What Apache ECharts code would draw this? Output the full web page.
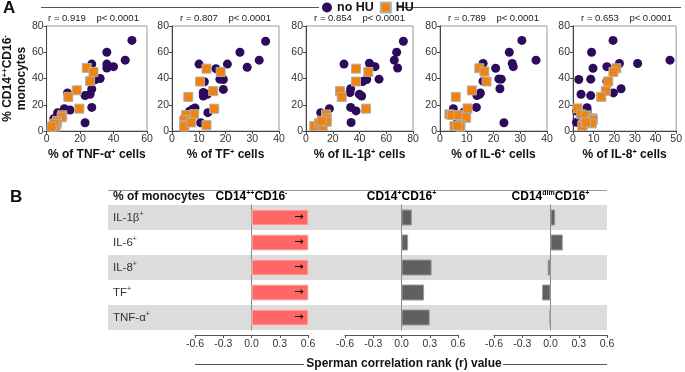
<!DOCTYPE html>
<html><head><meta charset="utf-8">
<script src="https://cdn.jsdelivr.net/npm/echarts@6/dist/echarts.min.js"></script>
<style>html,body{margin:0;padding:0;background:#fff}#c{width:685px;height:372px}</style>
</head><body><div id="c"></div>
<script>
// ---------- Panel A data: [x, y] = [% of marker+ cells, % CD14++CD16- monocytes]
const tnfNoHU = [[51,69],[36,60],[47,54],[27,51],[36,51],[36,48],[40,49],[29,39],[27,39],[32,40],[27,32],[26,28],[23,27],[12.5,29],[14,16],[10.6,17],[6.6,14],[27,18],[23,6.3],[4.3,9.4]];
const tnfHU = [[24,48],[28,45],[26,38],[18,31],[13,26],[19.6,17],[9.4,12],[9,10.4],[6.2,7.6],[6,5.3],[3.8,3.8],[5.3,3.3],[4.7,5.6],[3,3.3]];
const tfNoHU = [[35,68.4],[25.4,60],[32.6,54],[20.7,51],[10.1,51],[16.4,47.5],[28.1,48.6],[17.9,39.5],[19.2,39.2],[12.1,37.5],[11.7,29.4],[11.7,26.7],[13.2,28],[19.2,31.7],[13.4,14],[8.6,17.6],[7.7,16.6],[6.5,15],[10.7,6.3],[4.5,9.6]];
const tfHU = [[12.9,47.5],[18.2,45],[10.5,37.7],[15.4,30.4],[6.1,26],[15.8,17],[7.1,11.8],[8.3,12.8],[5.2,12.1],[4.7,8.3],[4.6,4.5],[4.6,3.3],[12.9,4.5],[7.2,6.5]];
const il1NoHU = [[72.8,68.4],[67.8,60],[66,54],[68.5,48],[47.4,51.6],[51.6,49],[28.4,51],[54.6,39.5],[45.4,39.2],[42.4,37.7],[33.4,32.2],[32.9,29.2],[39.9,28],[41.6,26.7],[33.4,18],[37.4,15.3],[17.5,17],[11,14],[14.2,9.6],[33.7,6.5]];
const il1HU = [[37.4,47.5],[46.6,45],[37.4,37.7],[25.4,30.4],[26.7,26],[44.9,17],[15,12.6],[15.5,9.6],[10,4.8],[6.2,3.8],[9.7,5.8],[12.5,3.8],[15.5,7],[11.7,7.8]];
const il6NoHU = [[30.6,69],[35.9,54],[25.9,60],[27,51.4],[27.4,49],[20.8,47.8],[16.1,51.4],[22,39.7],[22.9,39.5],[16.1,38],[15.1,29],[14.8,28],[13.8,27],[22.4,32.2],[13.6,18],[10.1,15.2],[8.8,14.2],[5,17],[6.5,9.6],[23.9,6.3]];
const il6HU = [[14.7,47.8],[16.6,45.3],[17.4,37.7],[11.9,30.9],[5.9,26],[10.3,17.2],[3.5,12.7],[4.4,12.2],[6.9,12.2],[9.8,10.1],[7.6,4.8],[5.4,3.8],[7.6,3.3],[6.5,4]];
const il8NoHU = [[19.4,69],[9,60],[47,54],[31.3,51.4],[22.5,51.4],[16.4,49],[9.7,47.8],[2.8,39.2],[8.6,39.5],[16.4,38],[23.3,32.2],[19.6,29],[3.9,28],[8.6,27],[6.8,17.7],[6.8,16],[1.7,15.2],[6.8,14.2],[1.7,6.6],[8.6,9.6]];
const il8HU = [[21,47.8],[19.6,45],[17.1,37.7],[15.9,30.6],[13.7,26],[2.2,17.2],[4,12.7],[6.3,11.9],[9.4,9.6],[9.7,8.4],[9.1,5.8],[4.8,4.8],[4.5,3.8],[6.3,6.6]];
const markerNames = ['TNF-α','TF','IL-1β','IL-6','IL-8'];
const xMax = [60, 40, 80, 40, 50];
const xStep = [20, 10, 20, 10, 10];
const rValues = ['0.919','0.807','0.854','0.789','0.653'];
const pText = 'p< 0.0001';

// ---------- Panel B data
const rowLabels = ['IL-1β','IL-6','IL-8','TF','TNF-α'];
const classicalR = [0.854, 0.789, 0.653, 0.807, 0.919];   // CD14++CD16- (drawn capped at 0.6, arrow)
const intermediateR = [0.11, 0.07, 0.32, 0.24, 0.30];    // CD14+CD16+
const nonclassicalR = [0.05, 0.13, -0.03, -0.09, -0.01]; // CD14dimCD16+
const rTicks = [-0.6, 0.6, 0.3];

// ---------- styling / layout
const FONT = '"Liberation Sans", Arial, Helvetica, sans-serif';
const PURPLE = '#2c0b5c', ORANGE = '#f0820f';
const sup = (sz, bold) => ({fontSize: sz, fontWeight: bold ? 'bold' : 'normal', verticalAlign: 'top', lineHeight: sz + 1, fontFamily: FONT, color: '#111'});
const boldT = {fontSize: 12, fontWeight: 'bold', lineHeight: 14, fontFamily: FONT, color: '#111'};

const sLefts = [40, 172, 306, 440, 573];
const sTop = 26, sW = 107, sH = 105;
const bLefts = [195, 345, 494];
const bTop = 205, bH = 125, bW = 113;

const grid = [], xAxis = [], yAxis = [], series = [], graphic = [];
const dataSets = [[tnfNoHU, tnfHU],[tfNoHU, tfHU],[il1NoHU, il1HU],[il6NoHU, il6HU],[il8NoHU, il8HU]];

const axisCommon = {
  axisLine: {show: true, onZero: false, lineStyle: {color: '#444', width: 1}},
  axisTick: {show: true, length: 3, lineStyle: {color: '#444'}},
  axisLabel: {fontSize: 10.5, color: '#333', fontFamily: FONT, margin: 3},
  splitLine: {show: false}
};

for (let i = 0; i < 5; i++) {
  grid.push({left: sLefts[i], top: sTop, width: sW, height: sH, show: true, borderColor: '#999', borderWidth: 1});
  xAxis.push(Object.assign({gridIndex: i, type: 'value', min: 0, max: xMax[i], interval: xStep[i],
    name: '{t|% of ' + markerNames[i] + '}{s|+}{t| cells}', nameLocation: 'middle', nameGap: 17,
    nameTextStyle: {rich: {t: boldT, s: sup(7.5, true)}}}, JSON.parse(JSON.stringify(axisCommon))));
  const ya = Object.assign({gridIndex: i, type: 'value', min: 0, max: 80, interval: 20}, JSON.parse(JSON.stringify(axisCommon)));
  if (i === 0) {
    ya.name = '{t|% CD14}{s|++}{t|CD16}{s|-}\n{t|monocytes}';
    ya.nameLocation = 'middle';
    ya.nameGap = 17;
    ya.nameTextStyle = {rich: {t: boldT, s: sup(7.5, true)}};
  }
  yAxis.push(ya);
  series.push({type: 'scatter', name: 'no HU', xAxisIndex: i, yAxisIndex: i, data: dataSets[i][0],
    symbol: 'circle', symbolSize: 9, itemStyle: {color: PURPLE, opacity: 1}});
  series.push({type: 'scatter', name: 'HU', xAxisIndex: i, yAxisIndex: i, data: dataSets[i][1],
    symbol: 'rect', symbolSize: 9, itemStyle: {color: ORANGE, borderColor: '#b0b0b0', borderWidth: 1, opacity: 1}});
  graphic.push({type: 'text', x: sLefts[i] + sW / 2, y: 18,
    style: {text: 'r = ' + rValues[i] + '    ' + pText, align: 'center', verticalAlign: 'middle',
      fontSize: 9.5, fontFamily: FONT, fill: '#222'}});
}

// Panel B background grid (row bands + row labels)
grid.push({left: 108, top: bTop, width: 499, height: bH});
xAxis.push({gridIndex: 5, type: 'value', min: 0, max: 1, show: false});
yAxis.push({gridIndex: 5, type: 'category', data: rowLabels, inverse: true,
  axisLine: {show: false}, axisTick: {show: false}, splitLine: {show: false},
  splitArea: {show: true, areaStyle: {color: ['#dcdcdc', 'rgba(255,255,255,0)']}},
  axisLabel: {inside: true, margin: 5, formatter: v => '{n|' + v + '}{s|+}',
    rich: {n: {fontSize: 11.5, lineHeight: 14, color: '#333', fontFamily: FONT}, s: Object.assign(sup(7, false), {color: '#333'})}}});

const barSets = [classicalR, intermediateR, nonclassicalR];
const fmtR = v => (Math.abs(v) < 1e-9 ? '0.0' : v.toFixed(1));
for (let k = 0; k < 3; k++) {
  const gi = 6 + k;
  grid.push({left: bLefts[k], top: bTop, width: bW, height: bH});
  xAxis.push({gridIndex: gi, type: 'value', min: rTicks[0], max: rTicks[1], interval: rTicks[2], position: 'bottom', offset: 5,
    axisLine: {show: true, onZero: false, lineStyle: {color: '#555'}},
    axisTick: {show: true, length: 3, lineStyle: {color: '#555'}},
    axisLabel: {fontSize: 10.5, color: '#333', fontFamily: FONT, margin: 4, formatter: fmtR},
    splitLine: {show: false}});
  yAxis.push({gridIndex: gi, type: 'category', data: rowLabels, inverse: true,
    axisLine: {show: true, onZero: true, lineStyle: {color: '#8a8a8a'}},
    axisTick: {show: false}, axisLabel: {show: false}, splitLine: {show: false}});
  const s = {type: 'bar', xAxisIndex: gi, yAxisIndex: gi, data: barSets[k], barWidth: 16, clip: true,
    itemStyle: {color: k === 0 ? '#ff6666' : '#606060', borderColor: k === 0 ? '#ffc2c2' : '#9a9a9a', borderWidth: 1}};
  if (k === 0) s.label = {show: true, position: 'insideRight', distance: 5, formatter: '→', color: '#000', fontSize: 11, fontFamily: 'DejaVu Sans'};
  series.push(s);
}

// decorations
graphic.push(
  {type: 'text', x: 3, y: 0, style: {text: 'A', fontSize: 17, fontWeight: 'bold', fontFamily: FONT, fill: '#111'}},
  {type: 'text', x: 10, y: 189, style: {text: 'B', fontSize: 17, fontWeight: 'bold', fontFamily: FONT, fill: '#111'}},
  {type: 'line', shape: {x1: 41, y1: 7.5, x2: 319, y2: 7.5}, style: {stroke: '#555', lineWidth: 1}},
  {type: 'line', shape: {x1: 398, y1: 7.5, x2: 681, y2: 7.5}, style: {stroke: '#555', lineWidth: 1}},
  {type: 'line', shape: {x1: 108, y1: 190.5, x2: 607, y2: 190.5}, style: {stroke: '#999', lineWidth: 1}},
  {type: 'text', x: 113, y: 197, style: {text: '% of monocytes', align: 'left', verticalAlign: 'middle', fontSize: 12, fontWeight: 'bold', fontFamily: FONT, fill: '#111'}},
  {type: 'text', x: bLefts[0] + bW / 2, y: 197, style: {text: '{b|CD14}{s|++}{b|CD16}{s|-}', align: 'center', verticalAlign: 'middle', rich: {b: boldT, s: sup(7, true)}}},
  {type: 'text', x: bLefts[1] + bW / 2, y: 197, style: {text: '{b|CD14}{s|+}{b|CD16}{s|+}', align: 'center', verticalAlign: 'middle', rich: {b: boldT, s: sup(7, true)}}},
  {type: 'text', x: bLefts[2] + bW / 2, y: 197, style: {text: '{b|CD14}{s|dim}{b|CD16}{s|+}', align: 'center', verticalAlign: 'middle', rich: {b: boldT, s: sup(7, true)}}},
  {type: 'text', x: 404, y: 364, style: {text: 'Sperman correlation rank (r) value', align: 'center', verticalAlign: 'middle', fontSize: 12, fontWeight: 'bold', fontFamily: FONT, fill: '#111'}},
  {type: 'line', shape: {x1: 195, y1: 364.5, x2: 304, y2: 364.5}, style: {stroke: '#555', lineWidth: 1}},
  {type: 'line', shape: {x1: 503, y1: 364.5, x2: 607, y2: 364.5}, style: {stroke: '#555', lineWidth: 1}}
);

const chart = echarts.init(document.getElementById('c'), null, {renderer: 'canvas'});
chart.setOption({
  backgroundColor: '#fff',
  animation: false,
  textStyle: {fontFamily: FONT},
  legend: {data: [{name: 'no HU', icon: 'circle'}, {name: 'HU', icon: 'rect'}], left: 322, top: 1,
    itemWidth: 10, itemHeight: 10, itemGap: 6, padding: 0,
    textStyle: {fontSize: 12.5, fontWeight: 'bold', color: '#111', fontFamily: FONT}},
  grid, xAxis, yAxis, series, graphic
});
</script></body></html>
